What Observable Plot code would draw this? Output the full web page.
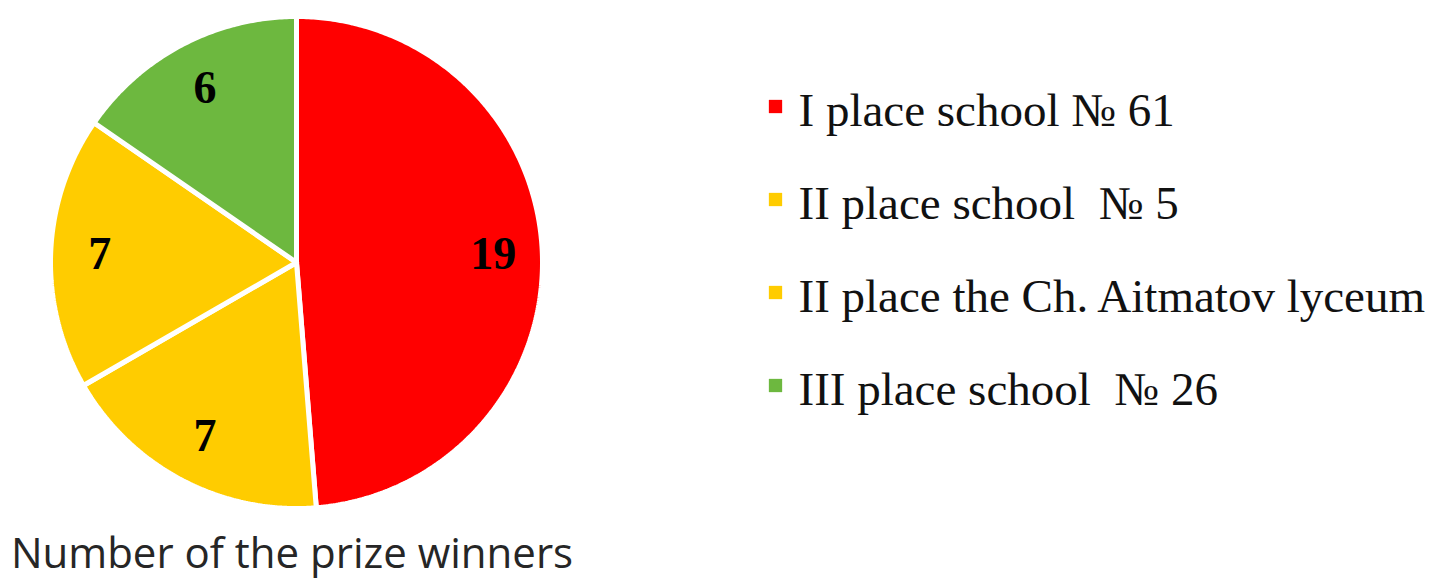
<!DOCTYPE html>
<html>
<head>
<meta charset="utf-8">
<script src="https://cdn.jsdelivr.net/npm/d3@7"></script>
<script src="https://cdn.jsdelivr.net/npm/@observablehq/plot@0.6"></script>
<style>
  html, body { margin: 0; padding: 0; background: #fff; }
  #wrap { position: relative; width: 1437px; height: 580px; overflow: hidden; }
  #pie { position: absolute; left: 0; top: 0; }
  #legend { position: absolute; left: 740px; top: 0; }
  #caption { position: absolute; left: 0; width: 584px; top: 531px; text-align: center;
    font-family: "Open Sans", sans-serif; font-size: 42px; color: #262626; line-height: 1; white-space: nowrap; }
</style>
</head>
<body>
<div id="wrap">
  <div id="pie"></div>
  <div id="legend"></div>
  <div id="caption">Number of the prize winners</div>
</div>
<script>
const categories = ["I place school № 61", "II place school  № 5", "II place the Ch. Aitmatov lyceum", "III place school  № 26"];
const values = [19, 7, 7, 6];
const colors = ["#FF0000", "#FFCC00", "#FFCC00", "#6DB83F"];

const total = d3.sum(values);
let acc = 0;
const slices = categories.map((c, i) => {
  const a0 = acc / total * 2 * Math.PI;
  acc += values[i];
  const a1 = acc / total * 2 * Math.PI;
  return {category: c, value: values[i], a0, a1};
});

// polygon outline for each slice (center + arc samples), angle clockwise from 12 o'clock
const outline = [];
for (const s of slices) {
  outline.push({category: s.category, x: 0, y: 0});
  const n = Math.max(2, Math.ceil((s.a1 - s.a0) / 0.01));
  for (let k = 0; k <= n; k++) {
    const a = s.a0 + (s.a1 - s.a0) * k / n;
    outline.push({category: s.category, x: Math.sin(a), y: Math.cos(a)});
  }
  outline.push({category: s.category, x: 0, y: 0});
}
const labelR = 0.8;
const labels = slices.map(s => {
  const m = (s.a0 + s.a1) / 2;
  return {category: s.category, value: s.value, x: labelR * Math.sin(m), y: labelR * Math.cos(m)};
});

const colorScale = {type: "ordinal", domain: categories, range: colors};

const pie = Plot.plot({
  width: 600, height: 525,
  margin: 0,
  x: {domain: [-1, 1], range: [50, 542], axis: null},
  y: {domain: [-1, 1], range: [508, 16], axis: null},
  color: colorScale,
  marks: [
    Plot.line(outline, {x: "x", y: "y", z: "category", fill: "category", stroke: "white", strokeWidth: 5, strokeLinejoin: "miter", curve: "linear"}),
    Plot.text(labels, {x: "x", y: "y", text: d => String(d.value), fill: "black", fontSize: 46, fontWeight: "bold", fontFamily: "Liberation Serif, serif"})
  ]
});
document.getElementById("pie").appendChild(pie);

const legend = Plot.plot({
  width: 697, height: 525,
  margin: 0,
  y: {type: "point", domain: categories, range: [106, 385], padding: 0, axis: null},
  color: colorScale,
  marks: [
    Plot.dot(categories, {y: d => d, fill: d => d, symbol: "square", r: 7.5, frameAnchor: "left", dx: 35}),
    Plot.text(categories, {y: d => d, text: d => d, frameAnchor: "left", textAnchor: "start", dx: 58, dy: 4, fill: "#111", fontSize: 47, fontFamily: "Liberation Serif, serif"})
  ]
});
document.getElementById("legend").appendChild(legend);
</script>
</body>
</html>
